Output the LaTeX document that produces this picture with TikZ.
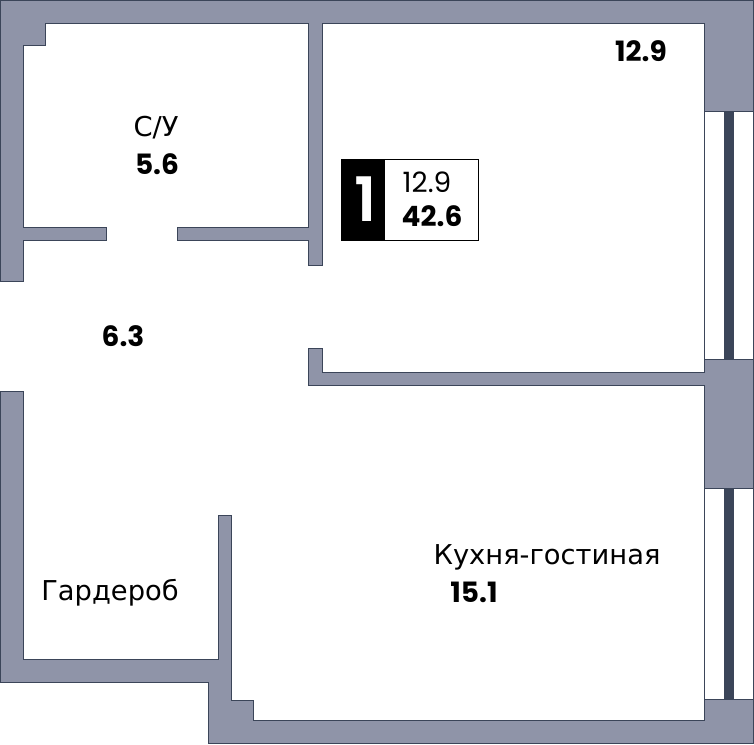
\documentclass[tikz,border=0pt]{standalone}
\usepackage{fontspec}
\setmainfont{Poppins}
\newfontfamily\cyrfont{DejaVu Sans}
\newfontfamily\countfont{Poppins SemiBold}
\definecolor{wallfill}{HTML}{8F94A8}
\definecolor{wallline}{HTML}{3B4559}
\tikzset{
  wall/.style={fill=wallfill,draw=wallline,line width=0.6pt,line join=miter},
  glass/.style={draw=wallline,line width=0.6pt},
  glassbar/.style={fill=wallline},
  roomname/.style={font=\cyrfont\fontsize{20.5}{20.5}\selectfont,text=black,inner sep=0pt},
  roomarea/.style={font=\fontsize{21}{21}\selectfont\bfseries,text=black,inner sep=0pt},
}
\begin{document}
\begin{tikzpicture}[x=0.75pt,y=-0.75pt]
    \useasboundingbox (0,0) rectangle (754,744);
    % windows
    \fill[glassbar] (723.5,111) rectangle (733.5,359);
    \fill[glassbar] (723.5,488) rectangle (733.5,699);
    \draw[glass] (704.5,111)-- (704.5,359);
    \draw[glass] (753,111)-- (753,359);
    \draw[glass] (704.5,488)-- (704.5,699);
    \draw[glass] (753,488)-- (753,699);
    % walls
    \draw[wall] (0,281)-- (0,0)-- (753,0)-- (753,111)-- (704.5,111)-- (704.5,23)-- (322.5,23)-- (322.5,265)-- (308.5,265)-- (308.5,240)-- (177,240)-- (177,227)-- (308.5,227)-- (308.5,23)-- (45,23)-- (45,45)-- (23,45)-- (23,227)-- (106.5,227)-- (106.5,240)-- (23,240)-- (23,281)-- cycle;
    \draw[wall] (308.5,348)-- (322.5,348)-- (322.5,372)-- (704.5,372)-- (704.5,359)-- (753,359)-- (753,488)-- (704.5,488)-- (704.5,385)-- (308.5,385)-- cycle;
    \draw[wall] (0,391)-- (23,391)-- (23,659)-- (218,659)-- (218,515)-- (231.5,515)-- (231.5,700)-- (253.5,700)-- (253.5,720)-- (704.5,720)-- (704.5,699)-- (753,699)-- (753,743)-- (208.5,743)-- (208.5,682)-- (0,682)-- cycle;
    % rooms
    \node[roomname] (bathname) at (156,128) {С/У};
    \node[roomarea] (batharea) at (157,164) {5.6};
    \node[roomarea] (hallarea) at (123,336) {6.3};
    \node[roomarea] (bedarea) at (641,51) {12.9};
    \node[roomname] (wardname) at (110,593) {Гардероб};
    \node[roomname] (kitchname) at (547,557) {Кухня-гостиная};
    \node[roomarea] (kitcharea) at (474,592) {15.1};
    % legend
    \fill[black] (341,159) rectangle (385,240);
    \draw[black,line width=0.75pt] (341,159) rectangle (478,240);
    \node[font=\countfont\fontsize{46}{46}\selectfont,text=white,inner sep=0pt] (roomcount) at (366,199) {1};
    \node[font=\fontsize{21}{21}\selectfont,inner sep=0pt] (livingarea) at (427,182) {12.9};
    \node[roomarea] (totalarea) at (432,216) {42.6};
\end{tikzpicture}
\end{document}
